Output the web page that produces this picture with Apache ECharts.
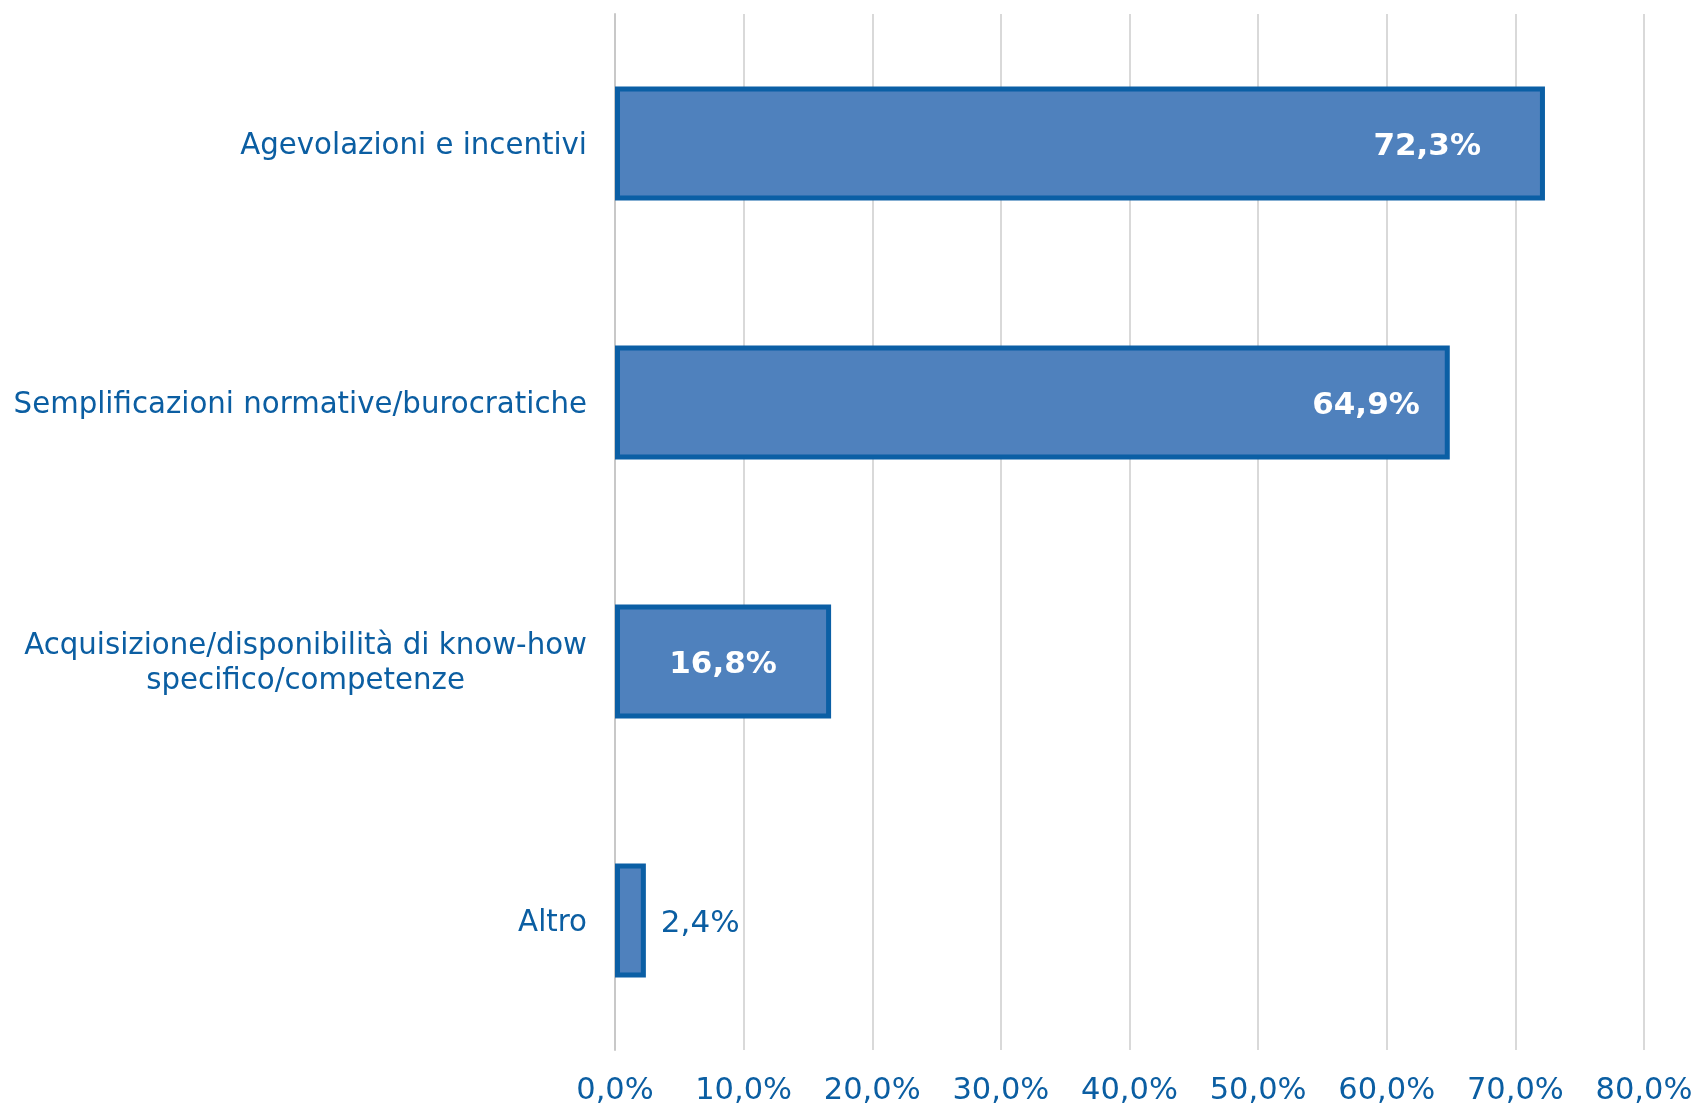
<!DOCTYPE html>
<html><head><meta charset="utf-8">
<script src="https://cdn.jsdelivr.net/npm/echarts@6/dist/echarts.min.js"></script>
<style>html,body{margin:0;padding:0;background:#fff}#c{width:1696px;height:1107px}</style>
</head><body><div id="c"></div>
<script>
const categories = ["Agevolazioni e incentivi","Semplificazioni normative/burocratiche","Acquisizione/disponibilità di know-how\nspecifico/competenze","Altro"];
const values = [72.3, 64.9, 16.8, 2.4];
const xTicks = {min:0, max:80, interval:10};

const TXT = '#0B5EA2';
const FONT = '"DejaVu Sans", Verdana, sans-serif';
const fmt = v => v.toFixed(1).replace('.', ',') + '%';

const labelCfg = [
  {position:'insideRight', distance:64, color:'#fff', fontWeight:'bold'},
  {position:'insideRight', distance:30, color:'#fff', fontWeight:'bold'},
  {position:'inside', color:'#fff', fontWeight:'bold'},
  {position:'right', distance:15, color:TXT, fontWeight:'normal'}
];

const chart = echarts.init(document.getElementById('c'), null, {renderer:'canvas'});
chart.setOption({
  animation:false,
  backgroundColor:'#fff',
  grid:{left:615, right:52, top:14, bottom:54, containLabel:false},
  xAxis:{type:'value', min:xTicks.min, max:xTicks.max, interval:xTicks.interval,
    axisLine:{show:false}, axisTick:{show:false},
    splitLine:{lineStyle:{color:'#D9D9D9', width:2}},
    axisLabel:{formatter:fmt, color:TXT, fontFamily:FONT, fontSize:30.5, margin:26}},
  yAxis:{type:'category', data:categories, inverse:true,
    axisLine:{show:true, lineStyle:{color:'#C8C8C8', width:2}}, axisTick:{show:false},
    axisLabel:{color:TXT, fontFamily:FONT, fontSize:29.25, margin:28, lineHeight:35,
      padding:[5,0,0,0],
      formatter: v => v.split('\n').map(s => '{c|' + s + '}').join('\n'),
      rich:{c:{align:'center', color:TXT, fontFamily:FONT, fontSize:29.25, lineHeight:35}}}},
  series:[{type:'bar', barWidth:'44%',
    itemStyle:{color:'#4F81BD', borderColor:'#0B5FA5', borderWidth:5},
    data: values.map((v,i) => ({value:v, label:Object.assign({show:true, fontFamily:FONT, fontSize:31, offset:[0,3], formatter:p=>fmt(p.value)}, labelCfg[i])}))
  }]
});
</script></body></html>
